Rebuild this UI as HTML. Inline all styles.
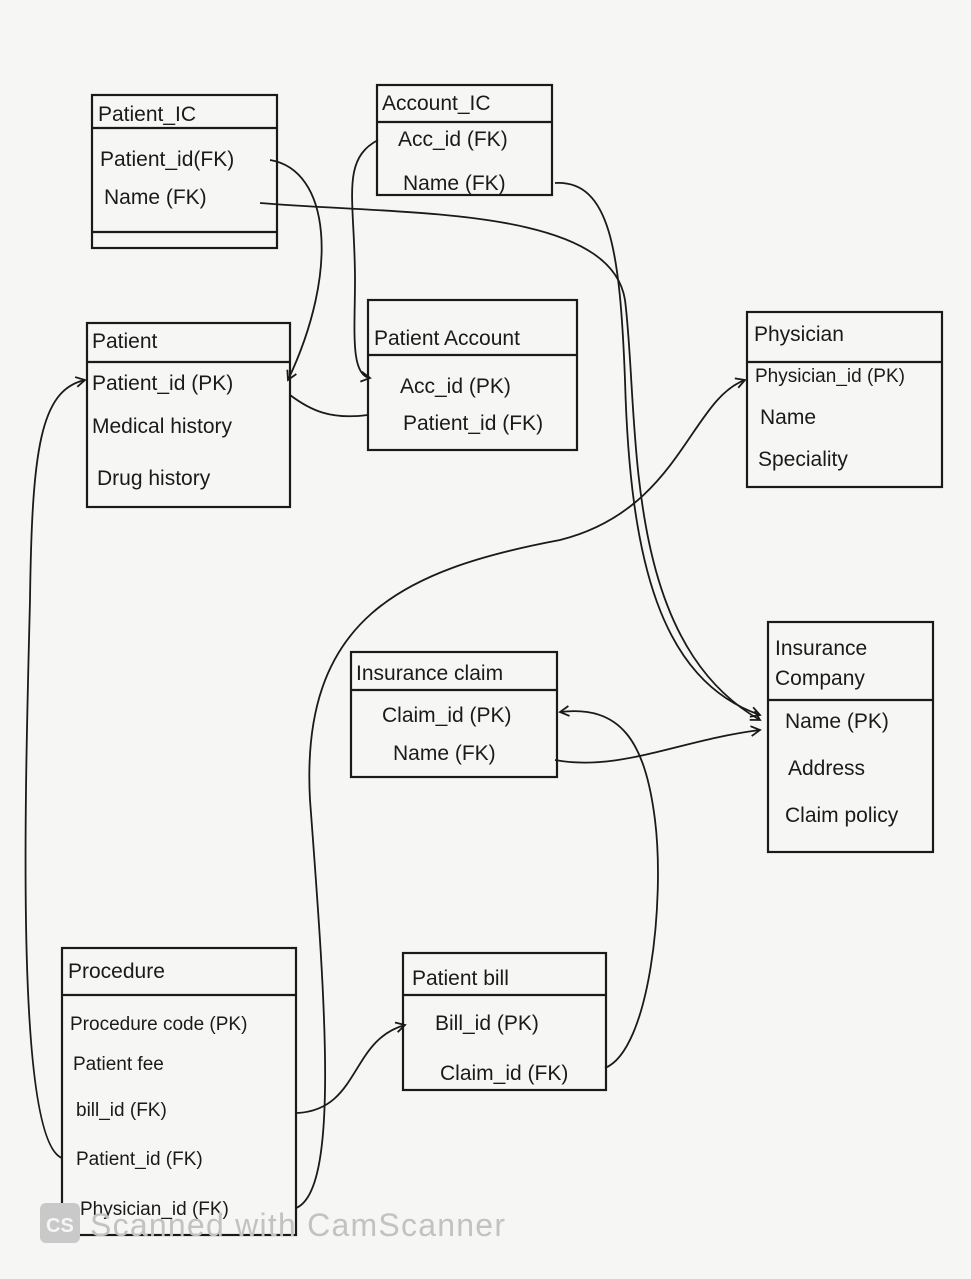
<!DOCTYPE html>
<html><head><meta charset="utf-8"><style>
html,body{margin:0;padding:0;background:#f6f6f4;}
svg{display:block}
text{font-family:"Liberation Sans",sans-serif;fill:#1a1a1a;font-size:21px}
.b{fill:none;stroke:#1a1a1a;stroke-width:2.2}
.c{fill:none;stroke:#1a1a1a;stroke-width:1.8}
</style></head><body>
<svg width="971" height="1279" viewBox="0 0 971 1279">
<defs><marker id="a" markerWidth="12" markerHeight="12" refX="10" refY="6" orient="auto" markerUnits="userSpaceOnUse"><path d="M1,1 L10,6 L1,11" fill="none" stroke="#1a1a1a" stroke-width="1.8"/></marker></defs>
<rect width="971" height="1279" fill="#f6f6f4"/>
<!-- Patient_IC -->
<rect class="b" x="92" y="95" width="185" height="153"/>
<line class="b" x1="92" y1="128" x2="277" y2="128"/>
<line class="b" x1="92" y1="232" x2="277" y2="232"/>
<text x="98" y="121">Patient_IC</text>
<text x="100" y="166">Patient_id(FK)</text>
<text x="104" y="204">Name (FK)</text>
<!-- Account_IC -->
<rect class="b" x="377" y="85" width="175" height="110"/>
<line class="b" x1="377" y1="122" x2="552" y2="122"/>
<text x="382" y="110">Account_IC</text>
<text x="398" y="146">Acc_id (FK)</text>
<text x="403" y="190">Name (FK)</text>
<!-- Patient -->
<rect class="b" x="87" y="323" width="203" height="184"/>
<line class="b" x1="87" y1="362" x2="290" y2="362"/>
<text x="92" y="348">Patient</text>
<text x="92" y="390">Patient_id (PK)</text>
<text x="92" y="433">Medical history</text>
<text x="97" y="485">Drug history</text>
<!-- Patient Account -->
<rect class="b" x="368" y="300" width="209" height="150"/>
<line class="b" x1="368" y1="355" x2="577" y2="355"/>
<text x="374" y="345">Patient Account</text>
<text x="400" y="393">Acc_id  (PK)</text>
<text x="403" y="430">Patient_id (FK)</text>
<!-- Physician -->
<rect class="b" x="747" y="312" width="195" height="175"/>
<line class="b" x1="747" y1="362" x2="942" y2="362"/>
<text x="754" y="341">Physician</text>
<text x="755" y="382" style="font-size:19px">Physician_id (PK)</text>
<text x="760" y="424">Name</text>
<text x="758" y="466">Speciality</text>
<!-- Insurance Company -->
<rect class="b" x="768" y="622" width="165" height="230"/>
<line class="b" x1="768" y1="700" x2="933" y2="700"/>
<text x="775" y="655">Insurance</text>
<text x="775" y="685">Company</text>
<text x="785" y="728">Name (PK)</text>
<text x="788" y="775">Address</text>
<text x="785" y="822">Claim policy</text>
<!-- Insurance claim -->
<rect class="b" x="351" y="652" width="206" height="125"/>
<line class="b" x1="351" y1="690" x2="557" y2="690"/>
<text x="356" y="680">Insurance claim</text>
<text x="382" y="722">Claim_id (PK)</text>
<text x="393" y="760">Name (FK)</text>
<!-- Patient bill -->
<rect class="b" x="403" y="953" width="203" height="137"/>
<line class="b" x1="403" y1="995" x2="606" y2="995"/>
<text x="412" y="985">Patient bill</text>
<text x="435" y="1030">Bill_id (PK)</text>
<text x="440" y="1080">Claim_id (FK)</text>
<!-- Procedure -->
<rect class="b" x="62" y="948" width="234" height="287"/>
<line class="b" x1="62" y1="995" x2="296" y2="995"/>
<text x="68" y="978">Procedure</text>
<text x="70" y="1030" style="font-size:19px">Procedure code (PK)</text>
<text x="73" y="1070" style="font-size:19px">Patient fee</text>
<text x="76" y="1116" style="font-size:19px">bill_id (FK)</text>
<text x="76" y="1165" style="font-size:19px">Patient_id (FK)</text>
<text x="80" y="1215" style="font-size:19px">Physician_id (FK)</text>
<!-- connectors -->
<path class="c" marker-end="url(#a)" d="M270,160 C330,170 340,270 288,380"/>
<path class="c" marker-end="url(#a)" d="M378,140 C340,160 355,200 355,280 C355,330 350,375 370,378"/>
<path class="c" d="M368,415 C330,420 310,410 290,395"/>
<path class="c" marker-end="url(#a)" d="M260,203 C400,215 610,205 625,300 C640,420 620,640 760,720"/>
<path class="c" marker-end="url(#a)" d="M555,183 C610,180 620,250 625,380 C630,560 660,680 760,715"/>
<path class="c" marker-end="url(#a)" d="M555,760 C620,772 680,740 760,730"/>
<path class="c" marker-end="url(#a)" d="M605,1068 C650,1050 665,900 655,820 C645,740 620,705 560,712"/>
<path class="c" marker-end="url(#a)" d="M297,1113 C360,1110 350,1040 405,1025"/>
<path class="c" marker-end="url(#a)" d="M62,1158 C15,1140 25,800 30,600 C32,450 40,390 85,380"/>
<path class="c" marker-end="url(#a)" d="M296,1208 C340,1190 325,1000 310,800 C300,620 400,570 560,540 C680,510 690,400 745,380"/>
<!-- watermark -->
<rect x="40" y="1203" width="40" height="40" rx="6" fill="#c9c9c9"/>
<text x="46" y="1232" style="font-size:20px;fill:#f6f6f4;font-weight:bold">CS</text>
<text x="90" y="1236" textLength="415" style="font-size:32px;fill:#c2c2c2">Scanned with CamScanner</text>
</svg>
</body></html>
